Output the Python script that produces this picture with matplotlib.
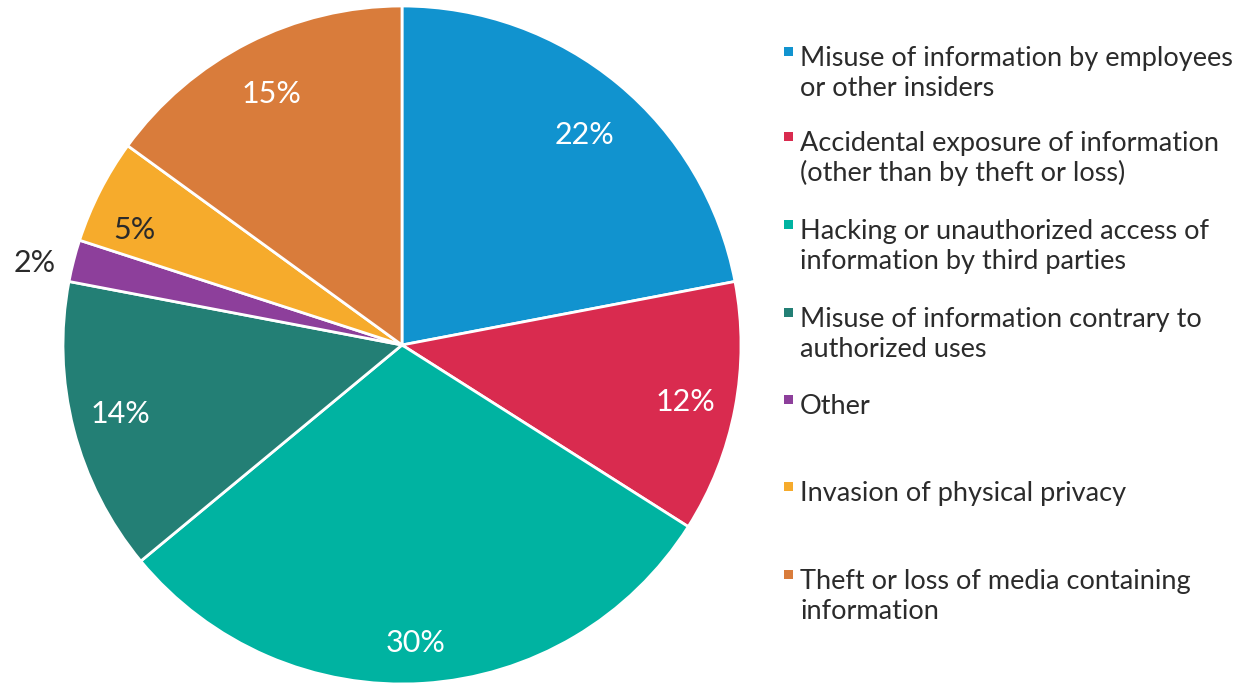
import numpy as np
import matplotlib
matplotlib.use("Agg")
import matplotlib.pyplot as plt
from matplotlib.patches import Rectangle

categories = [
    "Misuse of information by employees\nor other insiders",
    "Accidental exposure of information\n(other than by theft or loss)",
    "Hacking or unauthorized access of\ninformation by third parties",
    "Misuse of information contrary to\nauthorized uses",
    "Other",
    "Invasion of physical privacy",
    "Theft or loss of media containing\ninformation",
]
values = [22, 12, 30, 14, 2, 5, 15]
colors = ["#1193cf", "#d92b4f", "#00b3a1", "#237f75", "#8d3f9b", "#f6ab2c", "#d97c3b"]

# Percentage label styling: text colour, radial distance and angular nudge (deg)
label_colors = ["white", "white", "white", "white", "#2a2a2a", "#2a2a2a", "white"]
label_radius = [0.82, 0.854, 0.88, 0.856, 1.109, 0.86, 0.834]
label_nudge = [-1.3, -0.5, -0.9, -0.6, 1.8, 3.8, 0.4]

plt.rcParams["font.family"] = ["Lato", "DejaVu Sans"]

W, H = 1244, 683
fig = plt.figure(figsize=(W / 100, H / 100), dpi=100)
fig.patch.set_facecolor("white")

cx, cy, r = 402, 345, 339
ax = fig.add_axes([(cx - r) / W, (H - cy - r) / H, 2 * r / W, 2 * r / H])
wedges, _ = ax.pie(values, colors=colors, startangle=90, counterclock=False,
                   radius=1.0, wedgeprops=dict(edgecolor="white", linewidth=2))
ax.set_xlim(-1, 1)
ax.set_ylim(-1, 1)
ax.set_aspect("equal")
ax.axis("off")

for w, v, c, rd, dn in zip(wedges, values, label_colors, label_radius, label_nudge):
    mid = np.deg2rad((w.theta1 + w.theta2) / 2 + dn)
    ax.text(rd * np.cos(mid), rd * np.sin(mid), f"{v}%", color=c,
            ha="center", va="center", fontsize=22, clip_on=False)

# Legend drawn as marker squares with wrapped labels (first-line baselines in px)
legend_baseline = [66, 151, 239, 327, 414, 501, 589]
line_step = 30
for yb, col, lab in zip(legend_baseline, colors, categories):
    fig.patches.append(Rectangle((784 / W, (H - yb + 10) / H), 9 / W, 9 / H,
                                 transform=fig.transFigure, facecolor=col,
                                 edgecolor="none"))
    for i, line in enumerate(lab.split("\n")):
        fig.text(800 / W, (H - yb - i * line_step) / H, line, ha="left",
                 va="baseline", fontsize=19.5, color="#2b2b2b")

fig.savefig("out.png", dpi=100, facecolor="white")
